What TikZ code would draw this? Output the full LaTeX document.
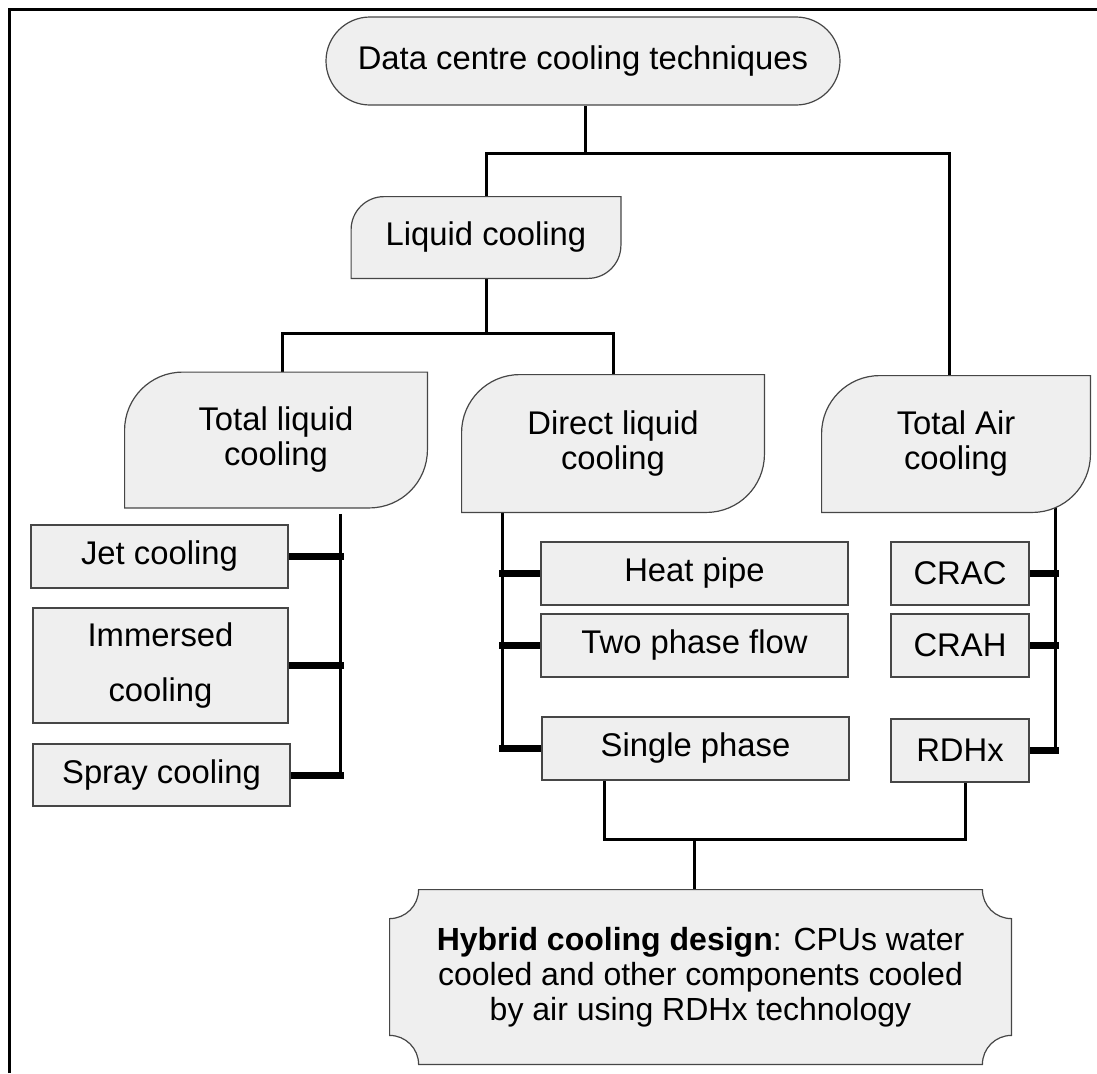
\documentclass[tikz,border=0pt]{standalone}
\usepackage{fontspec}
\setmainfont{Liberation Sans}
\usetikzlibrary{calc}
\pgfdeclarelayer{wires}
\pgfdeclarelayer{shapes}
\pgfsetlayers{wires,shapes,main}
\definecolor{boxfill}{RGB}{239,239,239}
\definecolor{boxedge}{RGB}{70,70,70}

\tikzset{
  txt/.style={inner sep=0pt, align=center, font=\fontsize{16.4}{17.5}\selectfont},
  sz/.style 2 args={minimum width={#1*0.5pt}, minimum height={#2*0.5pt}},
  outline/.style={draw=boxedge, fill=boxfill, line width=0.6pt},
  plainbox/.style={txt, outline},
  conn/.style={line width=1.5pt, black},
  stub/.style={line width=3.5pt, black, line cap=rect},
  frameline/.style={line width=1.5pt, black},
}

% outline with rounded top-left and bottom-right corners
\newcommand\leafoutline[2]{%
  \path[outline] (#1.west) [rounded corners=#2] -- (#1.north west) -- (#1.north)
    [sharp corners] -- (#1.north east) -- (#1.east)
    [rounded corners=#2] -- (#1.south east) -- (#1.south)
    [sharp corners] -- (#1.south west) -- cycle;}

\begin{document}
\begin{tikzpicture}[x=0.5pt, y=-0.5pt]
\useasboundingbox (0,0) rectangle (1097,1073);
\draw[frameline] (9,1073) -- (9,9) -- (1097,9);

% headings
\node[txt, outline, rounded corners=22pt, sz={514}{88}] (top) at (583,61) {Data centre cooling techniques};
\node[txt, sz={269}{81}] (liq) at (486,237.5) {Liquid cooling};
\node[txt, sz={302}{135}] (tl) at (276,440) {Total liquid\\cooling};
\node[txt, sz={302}{137}] (dl) at (613,443.5) {Direct liquid\\cooling};
\node[txt, sz={268}{136}] (ta) at (956,444) {Total Air\\cooling};

% techniques
\node[plainbox, sz={257}{63}] (jet) at (159.5,556.5) {Jet cooling};
\node[plainbox, sz={255}{115}] (imm) at (160.5,665.5) {Immersed\\[10pt]cooling};
\node[plainbox, sz={257}{62}] (spray) at (161.5,775) {Spray cooling};
\node[plainbox, sz={307}{63}] (hp) at (694.5,573.5) {Heat pipe};
\node[plainbox, sz={307}{63}] (tp) at (694.5,645.5) {Two phase flow};
\node[plainbox, sz={307}{63}] (sp) at (695.5,748.5) {Single phase};
\node[plainbox, sz={138}{63}] (crac) at (960,573.5) {CRAC};
\node[plainbox, sz={138}{63}] (crah) at (960,645.5) {CRAH};
\node[plainbox, sz={138}{63}] (rdhx) at (960,750.5) {RDHx};

% combined design
\node[txt, font=\fontsize{16}{17.5}\selectfont, sz={621}{174}] (hyb) at (700.5,977) {\textbf{Hybrid cooling design}: CPUs water\\cooled and other components cooled\\by air using RDHx technology};

\begin{pgfonlayer}{shapes}
  \leafoutline{liq}{16.5pt}
  \leafoutline{tl}{29pt}
  \leafoutline{dl}{29pt}
  \leafoutline{ta}{29pt}
  % plaque with concave corners
  \coordinate (hnw) at (hyb.north west);
  \coordinate (hne) at (hyb.north east);
  \coordinate (hse) at (hyb.south east);
  \coordinate (hsw) at (hyb.south west);
  \path[outline]
    ($(hnw)+(0,29)$) .. controls ($(hnw)+(16,29)$) and ($(hnw)+(29,16)$) .. ($(hnw)+(29,0)$)
    -- ($(hne)+(-29,0)$) .. controls ($(hne)+(-29,16)$) and ($(hne)+(-16,29)$) .. ($(hne)+(0,29)$)
    -- ($(hse)+(0,-29)$) .. controls ($(hse)+(-16,-29)$) and ($(hse)+(-29,-16)$) .. ($(hse)+(-29,0)$)
    -- ($(hsw)+(29,0)$) .. controls ($(hsw)+(29,-16)$) and ($(hsw)+(16,-29)$) .. ($(hsw)+(0,-29)$)
    -- cycle;
\end{pgfonlayer}

\begin{pgfonlayer}{wires}
  % top level split
  \coordinate (j1) at ($(top.south)+(2,48)$);
  \draw[conn] (top.south -| j1) -- (j1);
  \draw[conn] (liq.north) |- (j1) -| ([xshift=-3.5pt]ta.north);
  % liquid cooling split
  \coordinate (j2) at ($(liq.south)+(0,55)$);
  \draw[conn] (liq.south) -- (j2);
  \draw[conn] ([xshift=3pt]tl.north) |- (j2) -| (dl.north);
  % total liquid bus
  \coordinate (tlb) at ([xshift=32pt]tl.south);
  \draw[conn] ([yshift=-3pt]tlb) -- (tlb |- spray.east);
  \foreach \n in {jet,imm,spray} \draw[stub] (\n.east) -- (\n.east -| tlb);
  % direct liquid bus
  \coordinate (dlb) at ([xshift=-55.5pt]dl.south);
  \draw[conn] (dlb) -- (dlb |- sp.west);
  \foreach \n in {hp,tp,sp} \draw[stub] (\n.west) -- (\n.west -| dlb);
  % total air bus
  \coordinate (tab) at ([xshift=49.5pt]ta.south);
  \draw[conn] ([yshift=15pt]tab) -- (tab |- rdhx.east);
  \foreach \n in {crac,crah,rdhx} \draw[stub] (\n.east) -- (\n.east -| tab);
  % join into the hybrid design
  \coordinate (spb) at ([xshift=-45.75pt]sp.south);
  \coordinate (j3) at ($(spb)+(0,59)$);
  \draw[conn] (spb) -- (j3) -| ([xshift=2.5pt]rdhx.south);
  \coordinate (hybtop) at ([xshift=-3.25pt]hyb.north);
  \draw[conn] (hybtop) -- (hybtop |- j3);
\end{pgfonlayer}
\end{tikzpicture}
\end{document}
